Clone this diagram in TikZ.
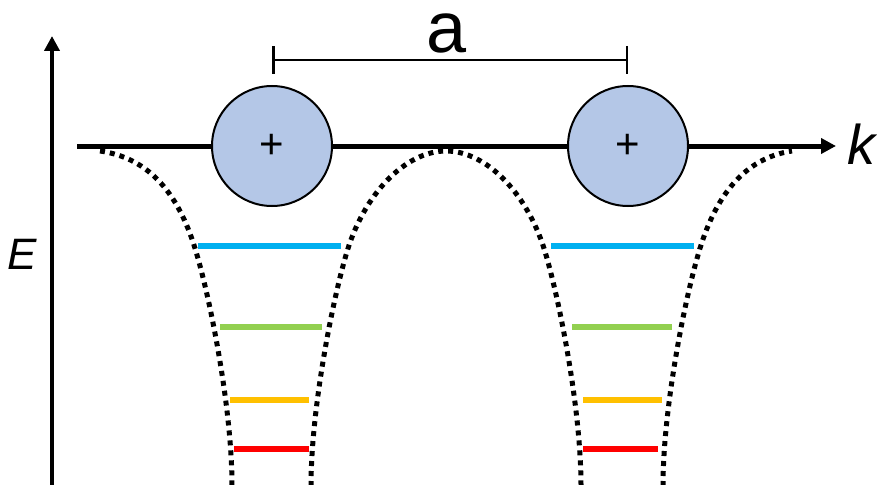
\documentclass[tikz,border=0pt]{standalone}
\usepackage{fontspec}
\setmainfont{Liberation Sans}
\usetikzlibrary{arrows.meta}
\definecolor{IonF}  {HTML}{B4C7E7}
\definecolor{LvBlue}{HTML}{00B0F0}
\definecolor{LvGrn} {HTML}{92D050}
\definecolor{LvYel} {HTML}{FFC000}
\definecolor{LvRed} {HTML}{FF0000}
\tikzset{
  ion/.style={
    circle, draw=black, fill=IonF,
    line width=2pt, minimum size=120pt, inner sep=0pt,
    font=\fontsize{42}{42}\selectfont,
  },
  axisline/.style args={#1}{
    -{Triangle[length=15pt,width=15pt]},
    line width=#1, black,
  },
  well/.style={
    line width=5pt, black,
    dash pattern=on 5pt off 5pt,
  },
  lvl/.style args={#1}{
    line width=5.5pt, color=#1,
  },
  axlbl/.style={
    font=\fontsize{44}{44}\selectfont\itshape, inner sep=0pt,
  },
  % distance bar between the ions
  sep/.style={
    {Bar[width=28pt,line width=2.5pt]}-{Bar[width=28pt,line width=2.5pt]},
    line width=2.5pt,
  },
}
\begin{document}
\begin{tikzpicture}[x=1pt,y=-1pt]
  \useasboundingbox (0,0) rectangle (877,484);
  % potential wells
  \draw[well] (100,151) .. controls (150,158) and (180,195) .. (197,255)
    .. controls (211,303) and (232,410) .. (232,486);
  \draw[well] (311,486) .. controls (311,410) and (332,303) .. (346,255)
    .. controls (363,195) and (405,151) .. (446,151)
    .. controls (487,151) and (529,195) .. (546,255)
    .. controls (560,303) and (581,410) .. (581,486);
  \draw[well] (663,486) .. controls (663,410) and (684,303) .. (698,255)
    .. controls (715,195) and (745,158) .. (792,151);
  % energy levels
  \foreach \y/\c/\la/\ra/\lb/\rb in {246/LvBlue/198/341/551/694, 327/LvGrn/220/322/572/672,
      400/LvYel/230/309/583/662, 449/LvRed/234/309/583/658}{
    \draw[lvl=\c] (\la,\y) -- (\ra,\y);
    \draw[lvl=\c] (\lb,\y) -- (\rb,\y);
  }
  % axes
  \coordinate (eBot) at (52,486);
  \coordinate (eTop) at (52,36);
  \coordinate (kL) at (77,146);
  \coordinate (kR) at (836,146);
  \draw[axisline=4pt] (eBot) -- (eTop);
  \draw[axisline=5pt] (kL) -- (kR);
  \node[axlbl] (lblE) at (22,254) {E};
  \node[axlbl, font=\fontsize{56}{56}\selectfont\itshape] (lblK) at (861,144) {k};
  % ions
  \node[ion] (ion1) at (272,146) {+};
  \node[ion] (ion2) at (628,146) {+};
  \coordinate (barL) at (272,60);
  \coordinate (barR) at (628,60);
  \draw[sep] (barL) -- (barR);
  \node[font=\fontsize{72}{72}\selectfont, inner sep=0pt] (lblA) at (447,33) {a};
\end{tikzpicture}
\end{document}
